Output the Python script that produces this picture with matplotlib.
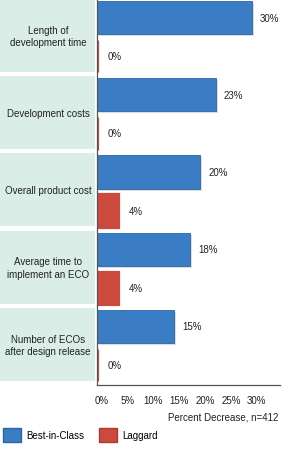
import matplotlib.pyplot as plt
import matplotlib.patheffects as pe
from matplotlib.patches import Rectangle, Patch
from matplotlib.transforms import blended_transform_factory, ScaledTranslation
import numpy as np

# --------- data ---------
categories = [
    "Length of\ndevelopment time",
    "Development costs",
    "Overall product cost",
    "Average time to\nimplement an ECO",
    "Number of ECOs\nafter design release",
]
best_in_class = [30, 23, 20, 18, 15]
laggard = [0, 0, 4, 4, 0]
xticks = [0, 5, 10, 15, 20, 25, 30]

BLUE = "#3a7dc4"
BLUE_EDGE = "#2b66a6"
RED = "#cc4a3d"
RED_EDGE = "#b13a2e"
GREEN = "#daeee7"
FS = 7.0

plt.rcParams["font.family"] = ["Liberation Sans", "DejaVu Sans"]

fig = plt.figure(figsize=(2.9, 4.52), dpi=100)
ax = fig.add_axes([97 / 290, 66 / 452, 183 / 290, 386 / 452])

n = len(categories)
y = np.arange(n)
shadow = [pe.SimplePatchShadow(offset=(1.5, -1.5), alpha=0.25, shadow_rgbFace="#777777"), pe.Normal()]

bars_b = ax.barh(y + 0.24, best_in_class, height=0.43, color=BLUE, edgecolor=BLUE_EDGE, linewidth=0.6)
bars_r = ax.barh(y + 0.74, laggard, height=0.42, color=RED, edgecolor=RED, linewidth=2.3)
for b in list(bars_b) + list(bars_r):
    b.set_path_effects(shadow)

for yi, v in zip(y, best_in_class):
    ax.annotate(f"{v}%", (v, yi + 0.24), xytext=(6, 0), textcoords="offset points",
                va="center", ha="left", fontsize=FS, color="#222222")
for yi, v in zip(y, laggard):
    ax.annotate(f"{v}%", (v, yi + 0.74), xytext=(8, 0), textcoords="offset points",
                va="center", ha="left", fontsize=FS, color="#222222")

ax.set_xlim(0, 35.5)
ax.set_ylim(n, 0)
ax.set_yticks([])
ax.set_xticks(xticks)
ax.set_xticklabels([f"{t}%" for t in xticks], fontsize=FS, color="#222222")
ax.tick_params(axis="x", length=0, pad=7)
shift = ScaledTranslation(5 / 100, 0, fig.dpi_scale_trans)
for lbl in ax.get_xticklabels():
    lbl.set_transform(lbl.get_transform() + shift)

for s in ["top", "right"]:
    ax.spines[s].set_visible(False)
ax.spines["left"].set_color("#555555")
ax.spines["bottom"].set_color("#555555")
ax.spines["left"].set_linewidth(0.9)
ax.spines["bottom"].set_linewidth(0.9)

# green category panels on the left
trans = blended_transform_factory(ax.transAxes, ax.transData)
panel_w = 95 / 183
for yi, label in zip(y, categories):
    ax.add_patch(Rectangle((-97 / 183, yi + 0.0), panel_w, 0.945, transform=trans,
                           facecolor=GREEN, edgecolor="none", clip_on=False, zorder=0))
    ax.text(-49 / 183, yi + 0.48, label, transform=trans, ha="center", va="center",
            fontsize=FS, color="#222222", linespacing=1.3)

fig.text(278 / 290, 1 - 417 / 452, "Percent Decrease, n=412", ha="right", va="center",
         fontsize=FS, color="#222222")

handles = [Patch(facecolor=BLUE, edgecolor=BLUE_EDGE, label="Best-in-Class"),
           Patch(facecolor=RED, edgecolor=RED_EDGE, label="Laggard")]
fig.legend(handles=handles, loc="center left", bbox_to_anchor=(0.007, 1 - 436 / 452), ncol=2,
           frameon=False, fontsize=FS, handlelength=1.8, handleheight=1.85,
           handletextpad=0.6, columnspacing=1.55, borderaxespad=0, borderpad=0.1)

fig.savefig("out.png", dpi=100)
